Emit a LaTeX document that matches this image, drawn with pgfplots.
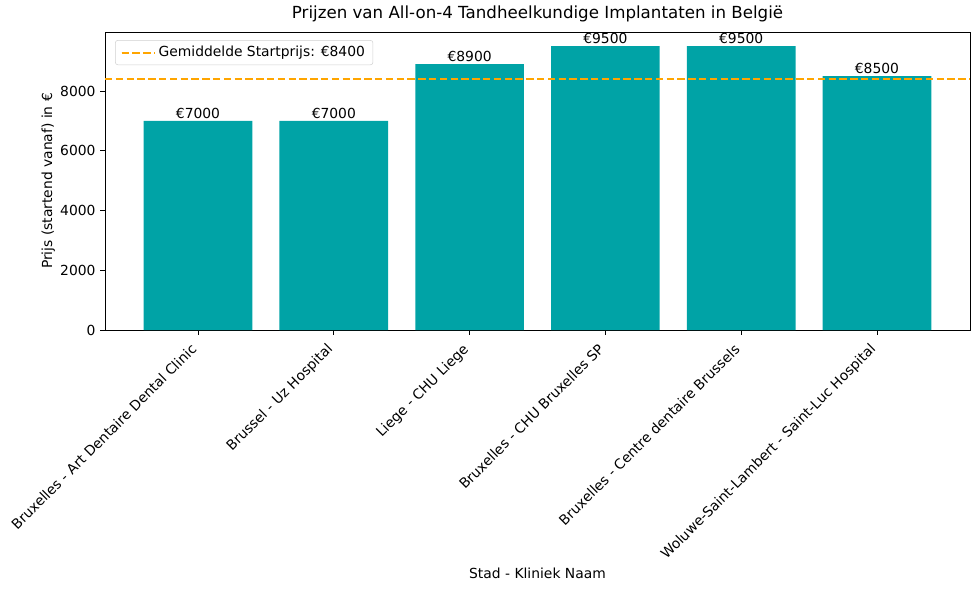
\documentclass[border=0pt]{standalone}
\usepackage{fontspec}
\setmainfont{DejaVu Sans}
\usepackage{pgfplots}
\pgfplotsset{compat=1.18}
\usetikzlibrary{calc}
\definecolor{barc}{HTML}{00A3A6}
\definecolor{meanc}{HTML}{FFA500}
\begin{document}
\begin{tikzpicture}
\begin{axis}[name=ax, scale only axis, width=648.75pt, height=223.5pt,
 xmin=-0.685, xmax=5.685, ymin=0, ymax=9975,
 xtick={0,1,2,3,4,5},
 xticklabels={Bruxelles - Art Dentaire Dental Clinic, Brussel - Uz Hospital, Liege - CHU Liege, Bruxelles - CHU Bruxelles SP, Bruxelles - Centre dentaire Brussels, Woluwe-Saint-Lambert - Saint-Luc Hospital},
 x tick label style={xshift=-6pt, yshift=-1pt, rotate=45, anchor=north east, font=\fontsize{10.4}{12}\selectfont},
 ytick={0,2000,4000,6000,8000},
 y tick label style={font=\fontsize{10.4}{12}\selectfont},
 /pgf/number format/1000 sep={}, /pgf/number format/assume math mode=true,
 tick align=outside, tick pos=left, major tick length=3.6pt,
 axis line style={line width=0.6pt}, tick style={line width=0.6pt, black},
 title={Prijzen van All-on-4 Tandheelkundige Implantaten in België},
 title style={font=\fontsize{12.5}{15}\selectfont, yshift=-2pt},
 xlabel={Stad - Kliniek Naam}, ylabel={Prijs (startend vanaf) in €},
 xlabel style={yshift=4pt}, ylabel style={yshift=-3pt},
 label style={font=\fontsize{10.4}{12}\selectfont},
 legend style={at={(0.0116,0.973)}, anchor=north west, draw=black!18, rounded corners=2pt,
   font=\fontsize{10.4}{12}\selectfont, inner xsep=4pt, inner ysep=2.5pt},
 legend image code/.code={\draw[#1] (0pt,0pt) -- (19pt,0pt); \path (0pt,0pt) -- (25pt,0pt);},
]
\addplot[ybar, bar width=0.8, bar shift=0pt, fill=barc, draw=none, forget plot,
 nodes near coords={€\pgfmathprintnumber{\pgfplotspointmeta}},
 every node near coord/.append style={font=\fontsize{10.4}{12}\selectfont, anchor=south, inner sep=1.5pt, black}]
 coordinates {(0,7000) (1,7000) (2,8900) (3,9500) (4,9500) (5,8500)};
\addplot[meanc, line width=1.5pt, dash pattern=on 5.6pt off 2.5pt] coordinates {(-0.685,8400) (5.685,8400)};
\addlegendentry{Gemiddelde Startprijs: €8400}
\end{axis}
\pgfresetboundingbox
\path[use as bounding box] ($(ax.south west)+(-78.75pt,-195pt)$) rectangle ($(ax.north east)+(7.5pt,24pt)$);
\end{tikzpicture}
\end{document}
